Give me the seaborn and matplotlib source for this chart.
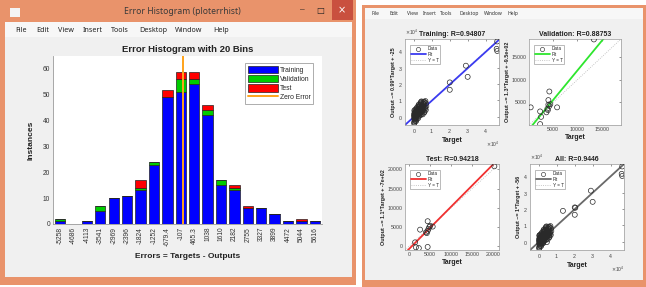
import numpy as np
import matplotlib
matplotlib.use("Agg")
import matplotlib.pyplot as plt
import seaborn as sns
from matplotlib.patches import Rectangle, Patch
from matplotlib.lines import Line2D

# ---- histogram data (ploterrhist, 20 bins) ----
bin_labels = ['-5258', '-4686', '-4113', '-3541', '-2969', '-2396', '-1824', '-1252',
              '-679.4', '-107', '465.3', '1038', '1610', '2182', '2755', '3327',
              '3899', '4472', '5044', '5616']
training = [1, 0, 1, 5, 10, 11, 13, 23, 49, 51, 54, 42, 15, 13, 6, 6, 4, 1, 1, 1]
validation = [1, 0, 0, 2, 0, 0, 1, 1, 0, 5, 2, 2, 2, 1, 0, 0, 0, 0, 0, 0]
test = [0, 0, 0, 0, 0, 0, 3, 0, 3, 3, 3, 2, 0, 1, 1, 0, 0, 0, 1, 0]

# ---- regression data (plotregression) ----
# training blob (targets / outputs) plus the few large samples
train_t = [200, 500, 300, 800, 100, 400, 600, 900, 1200, 1500, 1000, 1800, 2000, 2200,
           2500, 2800, 3000, 3200, 3500, 3800, 4000, 4200, 4500, 4800, 5000, 5300, 5500,
           5800, 6000, 6200, 1300, 1600, 1900, 2300, 2600, 2900, 3300, 3600, 3900, 4300,
           4600, 700, 350, 150, 2100, 2700, 3400, 4100, 4400, 5100, 5600, 1100, 1400,
           2400, 3100, 3700, 4700, 5200, 250, 650, 950, 1700, 2000, 2500, 3000, 3500,
           4000, 4500, 5000, 800,
           100, 300, 600, 50, 450, 1500, 2600, 3800, 5400, 6400, 6700, 6900, 6600, 5900,
           4900, 3600, 2400, 1200, 700, 200, 3300, 4200, 5700, 6300, 1900, 2800, 3900,
           5100, 1000, 1600,
           20000, 20000, 29000, 30000, 46500, 46200, 46500]
train_y = [-3000, -2500, -1500, -800, 500, 1200, 0, 2000, 1500, 3000, -500, 2500, 1000,
           4000, 3000, 2000, 5000, 3500, 4500, 6000, 2500, 5500, 7000, 4000, 6500, 8000,
           5000, 7500, 9000, 6000, 400, 1800, 3600, 2200, 5200, 600, 2400, 3000, 4200,
           3300, 5800, 3000, 2200, -1000, -300, 6200, 7200, 8000, 1800, 3600, 8600, 4200,
           -1800, 1600, 4000, 5200, 6400, 4800, 0, 800, 1000, 600, 2800, 4600, 3100, 2000,
           4700, 3800, 5500, 1800,
           -4000, -3600, -2200, 1500, 2800, 5200, 7000, 8400, 9200, 9600, 8200, 6600, 4200,
           3000, 1500, 1000, -800, -2600, 4400, 3800, 6800, 9400, 2600, 5000, 6000, 7600,
           9000, 7300, 2600, 4800,
           21000, 16500, 31200, 24400, 46000, 41500, 40200]
val_t = [13400, 4200, 4000, 350, 2300, 2500, 2300, 5800, 4000, 4200, 3800, 3600, 4400, 3900]
val_y = [18900, 7400, 5500, 3900, 3000, 1800, 200, 3900, 4500, 4200, 3600, 2800, 4600, 3300]
test_t = [20300, 4400, 2600, 4400, 4800, 5600, 4000, 4200, 1400, 1600, 2300, 4400, 4600, 5000]
test_y = [20800, 6500, 4300, 4000, 5000, 5100, 3600, 3400, 1000, -300, -500, -200, 4500, 5300]

panels = [
    dict(name='Training', r='0.94807', ylab='Output ~= 0.99*Target + -25', a=0.99, b=-25,
         fit='#3b3bf0', t=train_t, y=train_y, lim=(-5000, 47500), sci=True,
         box=(405, 39, 499, 125)),
    dict(name='Validation', r='0.88753', ylab='Output ~= 1.3*Target + -9.5e+02', a=1.3, b=-950,
         fit='#2ee62e', t=val_t, y=val_y, lim=(0, 19000), sci=False,
         box=(529, 39, 621, 125)),
    dict(name='Test', r='0.94218', ylab='Output ~= 1.1*Target + -7e+02', a=1.1, b=-700,
         fit='#f03030', t=test_t, y=test_y, lim=(-1000, 21400), sci=False,
         box=(405, 164, 499, 250)),
    dict(name='All', r='0.9446', ylab='Output ~= 1*Target + -56', a=1.0, b=-56,
         fit='#6a6a6a', t=train_t + val_t + test_t, y=train_y + val_y + test_y,
         lim=(-5000, 47500), sci=True, box=(530, 164, 624, 250)),
]

sns.set_theme(style="white")
plt.rcParams['font.family'] = ['Liberation Sans', 'DejaVu Sans']

W, H = 646, 287
fig = plt.figure(figsize=(W / 100, H / 100), dpi=100)
fig.patch.set_facecolor('white')

ORANGE = '#e9936b'
GREY = '#f0f0f0'
MENU = '#f7f7f7'


def box(x0, y0, x1, y1, color):
    fig.patches.append(Rectangle((x0 / W, 1 - y1 / H), (x1 - x0) / W, (y1 - y0) / H,
                                 transform=fig.transFigure, facecolor=color,
                                 edgecolor='none', zorder=-10))


def ax_at(x0, y0, x1, y1):
    return fig.add_axes([x0 / W, 1 - y1 / H, (x1 - x0) / W, (y1 - y0) / H])


def txt(x, y, s, **kw):
    fig.text(x / W, 1 - y / H, s, **kw)


# ---- window chrome ----
box(0, 0, 356, 285, ORANGE)
box(5, 22, 352, 277, GREY)
box(5, 22, 352, 37, MENU)
box(332, 0, 353, 20, '#c9503f')
txt(182, 12, 'Error Histogram (ploterrhist)', ha='center', va='center', fontsize=6.2,
    color='#3a3a3a', family=['Noto Sans', 'DejaVu Sans'])
txt(302, 10, '–', ha='center', va='center', fontsize=6, color='#222222')
txt(320, 10, '□', ha='center', va='center', fontsize=6, color='#222222',
    family=['DejaVu Sans'])
txt(342, 10, '×', ha='center', va='center', fontsize=7, color='white',
    family=['DejaVu Sans'])
box(10, 8, 20, 17, '#f4f4f4')
for xm, word in zip([15, 36, 58, 83, 111, 139, 175, 213],
                    ['File', 'Edit', 'View', 'Insert', 'Tools', 'Desktop', 'Window', 'Help']):
    txt(xm, 30, word, ha='left', va='center', fontsize=5.2, color='#222222',
        family=['Noto Sans', 'DejaVu Sans'])

box(362, 5, 646, 287, ORANGE)
box(365, 8, 643, 280, GREY)
box(365, 8, 643, 19, MENU)
for xm, word in zip([372, 390, 407, 423, 440, 460, 484, 507],
                    ['File', 'Edit', 'View', 'Insert', 'Tools', 'Desktop', 'Window', 'Help']):
    txt(xm, 13.5, word, ha='left', va='center', fontsize=3.6, color='#333333',
        family=['Noto Sans', 'DejaVu Sans'])

# ---- error histogram ----
C_TRAIN, C_VAL, C_TEST, C_ZERO = '#0000ff', '#00cc00', '#ff0000', '#ffa31a'
centers = np.array([float(s) for s in bin_labels])
tr = np.array(training)
va = np.array(validation)
te = np.array(test)

ax = ax_at(53, 56, 322, 224)
ax.set_facecolor('white')
bw = 440
ax.bar(centers, tr, width=bw, color=C_TRAIN, edgecolor='#222222', linewidth=0.5)
ax.bar(centers, va, width=bw, bottom=tr, color=C_VAL, edgecolor='#222222', linewidth=0.5)
ax.bar(centers, te, width=bw, bottom=tr + va, color=C_TEST, edgecolor='#222222', linewidth=0.5)
ax.axvline(0, color=C_ZERO, lw=1.4, zorder=5)
ax.set_xlim(-5560, 5920)
ax.set_ylim(0, 65)
ax.set_yticks(range(0, 61, 10))
ax.set_xticks(centers, labels=bin_labels, rotation=90)
ax.tick_params(axis='both', direction='in', length=2, width=0.5, labelsize=4.8,
               colors='#333333', pad=2)
ax.tick_params(axis='x', length=0)
for side in ['top', 'right']:
    ax.spines[side].set_visible(False)
for side in ['left', 'bottom']:
    ax.spines[side].set_color('#999999')
    ax.spines[side].set_linewidth(0.6)
ax.set_title('Error Histogram with 20 Bins', fontsize=6.8, fontweight='bold', pad=3,
             color='#222222')
ax.set_xlabel('Errors = Targets - Outputs', fontsize=6, fontweight='bold',
              color='#222222', labelpad=5)
ax.set_ylabel('Instances', fontsize=6, fontweight='bold', color='#222222', labelpad=6)
handles = [Patch(facecolor=C_TRAIN, edgecolor='#222222', lw=0.5, label='Training'),
           Patch(facecolor=C_VAL, edgecolor='#222222', lw=0.5, label='Validation'),
           Patch(facecolor=C_TEST, edgecolor='#222222', lw=0.5, label='Test'),
           Line2D([0], [0], color=C_ZERO, lw=1.4, label='Zero Error')]
leg = ax.legend(handles=handles, loc='upper right', bbox_to_anchor=(0.967, 0.958),
                borderaxespad=0, fontsize=4.9, handlelength=4.4, handleheight=1.35,
                labelspacing=0.14, borderpad=0.4, handletextpad=0.25, frameon=True,
                fancybox=False, edgecolor='#888888')
leg.get_frame().set_linewidth(0.6)

# ---- regression panels ----
for p in panels:
    a = ax_at(*p['box'])
    a.set_facecolor('white')
    lo, hi = p['lim']
    xs = np.array([lo, hi])
    a.axline((0, 0), slope=1, color='#b5b5b5', lw=0.6, ls=':', zorder=1)
    sns.lineplot(x=xs, y=p['a'] * xs + p['b'], ax=a, color=p['fit'], lw=1.3, zorder=2)
    sns.scatterplot(x=p['t'], y=p['y'], ax=a, marker='o', s=13, color='#333333',
                    facecolor='none', edgecolor='#2a2a2a', linewidth=0.5, zorder=3)
    a.set_xlim(lo, hi)
    a.set_ylim(lo, hi)
    if p['sci']:
        a.set_xticks([0, 10000, 20000, 30000, 40000])
        a.set_yticks([0, 10000, 20000, 30000, 40000])
        a.ticklabel_format(style='sci', scilimits=(0, 0), useMathText=True)
        a.xaxis.get_offset_text().set_fontsize(3.5)
        a.yaxis.get_offset_text().set_fontsize(3.5)
        a.xaxis.get_offset_text().set_color('#555555')
        a.yaxis.get_offset_text().set_color('#555555')
    elif p['name'] == 'Validation':
        a.set_xticks([5000, 10000, 15000])
        a.set_yticks([5000, 10000, 15000])
    else:
        a.set_xticks([0, 5000, 10000, 15000, 20000])
        a.set_yticks([0, 5000, 10000, 15000, 20000])
    a.tick_params(axis='both', direction='in', length=1.5, width=0.4, labelsize=3.8,
                  colors='#444444', pad=1.5, top=True, right=True)
    for s in a.spines.values():
        s.set_color('#999999')
        s.set_linewidth(0.5)
    a.set_title(f"{p['name']}: R={p['r']}", fontsize=5, fontweight='bold', pad=2,
                color='#222222')
    a.set_xlabel('Target', fontsize=5, fontweight='bold', color='#222222', labelpad=1.5)
    a.set_ylabel(p['ylab'], fontsize=3.9, fontweight='bold', color='#222222', labelpad=1.5)
    h = [Line2D([0], [0], marker='o', ls='none', mfc='none', mec='#333333', mew=0.45,
                ms=3, label='Data'),
         Line2D([0], [0], color=p['fit'], lw=1.3, label='Fit'),
         Line2D([0], [0], color='#b5b5b5', lw=0.6, ls=':', label='Y = T')]
    lg = a.legend(handles=h, loc='upper left', bbox_to_anchor=(0.05, 0.93),
                  borderaxespad=0, fontsize=3.3, handlelength=3.2, labelspacing=0.15,
                  borderpad=0.3, handletextpad=0.5, frameon=True, fancybox=False,
                  edgecolor='#888888', markerfirst=True)
    lg.get_frame().set_linewidth(0.5)

fig.savefig('out.png', dpi=100, facecolor='white')
plt.close(fig)
